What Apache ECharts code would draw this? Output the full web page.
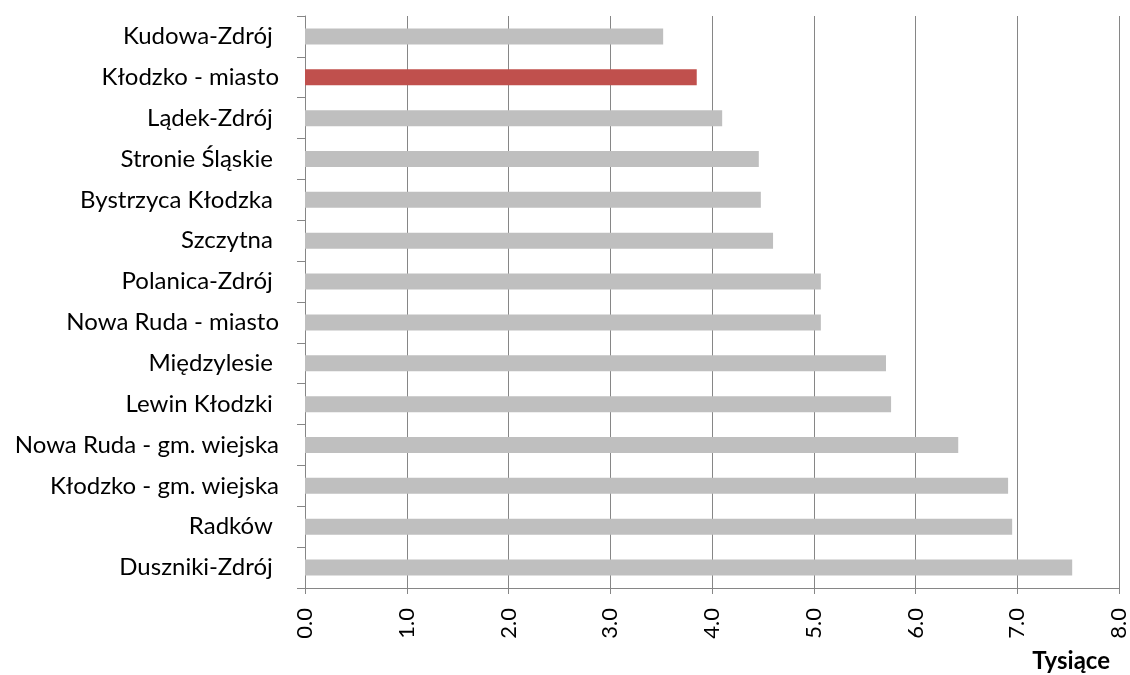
<!DOCTYPE html>
<html>
<head>
<meta charset="utf-8">
<script src="https://cdn.jsdelivr.net/npm/echarts@6/dist/echarts.min.js"></script>
<style>
  html, body { margin: 0; padding: 0; background: #fff; }
  #chart { width: 1130px; height: 675px; }
</style>
</head>
<body>
<div id="chart"></div>
<script>
// gminy, od góry do dołu (trailing spaces as in the source sheet)
const categories = [
  'Kudowa-Zdrój ', 'Kłodzko - miasto', 'Lądek-Zdrój ', 'Stronie Śląskie ',
  'Bystrzyca Kłodzka ', 'Szczytna ', 'Polanica-Zdrój ', 'Nowa Ruda - miasto',
  'Międzylesie ', 'Lewin Kłodzki ', 'Nowa Ruda - gm. wiejska', 'Kłodzko - gm. wiejska',
  'Radków ', 'Duszniki-Zdrój '
]
const values = [3.52, 3.85, 4.10, 4.46, 4.48, 4.60, 5.07, 5.07, 5.71, 5.76, 6.42, 6.91, 6.95, 7.54]
const highlighted = 'Kłodzko - miasto'
const xTicks = [0, 1, 2, 3, 4, 5, 6, 7, 8]

const chart = echarts.init(document.getElementById('chart'))

const labelFont = 'Lato, "Noto Sans", sans-serif'
const gridColor = '#868686'

const option = {
  backgroundColor: '#fff',
  animation: false,
  title: {
    text: 'Tysiące',
    right: 20,
    top: 649,
    padding: 0,
    textStyle: {
      fontFamily: labelFont,
      fontSize: 24,
      fontWeight: 'bold',
      color: '#000',
    },
  },
  grid: {
    left: 305,
    right: 10,
    top: 16,
    bottom: 87,
  },
  xAxis: {
    type: 'value',
    min: xTicks[0],
    max: xTicks[xTicks.length - 1],
    interval: 1,
    axisLine: { show: true, lineStyle: { color: gridColor, width: 1 } },
    axisTick: { show: true, length: 6, lineStyle: { color: gridColor } },
    axisLabel: {
      rotate: 90,
      margin: 20,
      color: '#000',
      fontFamily: labelFont,
      fontSize: 22,
      formatter: v => v.toFixed(1),
    },
    splitLine: { show: true, lineStyle: { color: gridColor, width: 1 } },
  },
  yAxis: {
    type: 'category',
    inverse: true,
    data: categories,
    axisLine: { show: true, lineStyle: { color: gridColor, width: 1 } },
    axisTick: { show: true, length: 8, lineStyle: { color: gridColor } },
    axisLabel: {
      margin: 26,
      color: '#000',
      fontFamily: labelFont,
      fontSize: 24,
    },
  },
  series: [{
    type: 'bar',
    barWidth: 16,
    data: values.map((v, i) => ({
      value: v,
      itemStyle: { color: categories[i] === highlighted ? '#c0504d' : '#bfbfbf' },
    })),
  }],
}

chart.setOption(option)
window.addEventListener('resize', () => chart.resize())
</script>
</body>
</html>
